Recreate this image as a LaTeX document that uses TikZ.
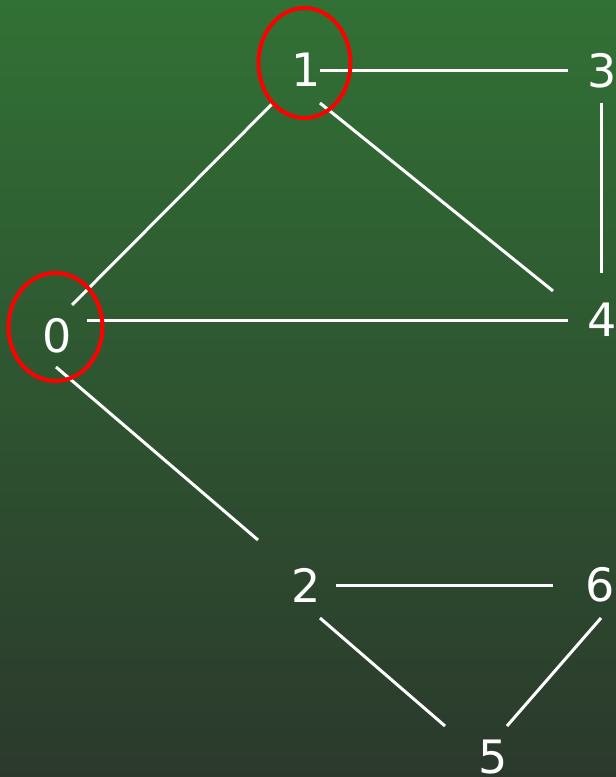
\documentclass[tikz,border=0pt]{standalone}
\usepackage{fontspec}
\setmainfont{DejaVu Sans}
\usepackage{tikz}
\usepackage{xcolor}
\definecolor{bgtop}{RGB}{49,113,53}
\definecolor{bgbot}{RGB}{43,57,44}

\begin{document}
\begin{tikzpicture}[x=1pt,y=1pt,
  vert/.style={inner sep=0pt,text=white,font=\fontsize{46}{50}\selectfont},
  edge/.style={white,line width=3pt},
  hilite/.style={red,line width=4pt}]
\useasboundingbox (0,0) rectangle (616,777);
\shade[top color=bgtop,bottom color=bgbot] (0,0) rectangle (616,777);
\node[vert] (n0) at (57,441) {0};
\node[vert] (n1) at (306,707) {1};
\node[vert] (n3) at (602,706) {3};
\node[vert] (n4) at (602,457) {4};
\node[vert] (n2) at (306,192) {2};
\node[vert] (n6) at (600,192) {6};
\node[vert] (n5) at (493,20) {5};
\draw[edge] ([shift={(14,-1)}]n1.center) -- ([shift={(-34,0)}]n3.center);
\draw[edge] ([shift={(-34,-34)}]n1.center) -- ([shift={(15,31)}]n0.center);
\draw[edge] ([shift={(14,-33)}]n1.center) -- ([shift={(-49,29)}]n4.center);
\draw[edge] ([shift={(-1,-32)}]n3.center) -- ([shift={(-1,47)}]n4.center);
\draw[edge] ([shift={(30,15)}]n0.center) -- ([shift={(-34,-1)}]n4.center);
\draw[edge] ([shift={(-1,-31)}]n0.center) -- ([shift={(-48,45)}]n2.center);
\draw[edge] ([shift={(30,-1)}]n2.center) -- ([shift={(-47,-1)}]n6.center);
\draw[edge] ([shift={(14,-33)}]n2.center) -- ([shift={(-48,31)}]n5.center);
\draw[edge] ([shift={(1,-33)}]n6.center) -- ([shift={(14,31)}]n5.center);
\draw[hilite] ([shift={(-1.5,7)}]n1.center) ellipse [x radius=46pt,y radius=55pt];
\draw[hilite] ([shift={(-1.5,9)}]n0.center) ellipse [x radius=47pt,y radius=54pt];
\end{tikzpicture}
\end{document}
